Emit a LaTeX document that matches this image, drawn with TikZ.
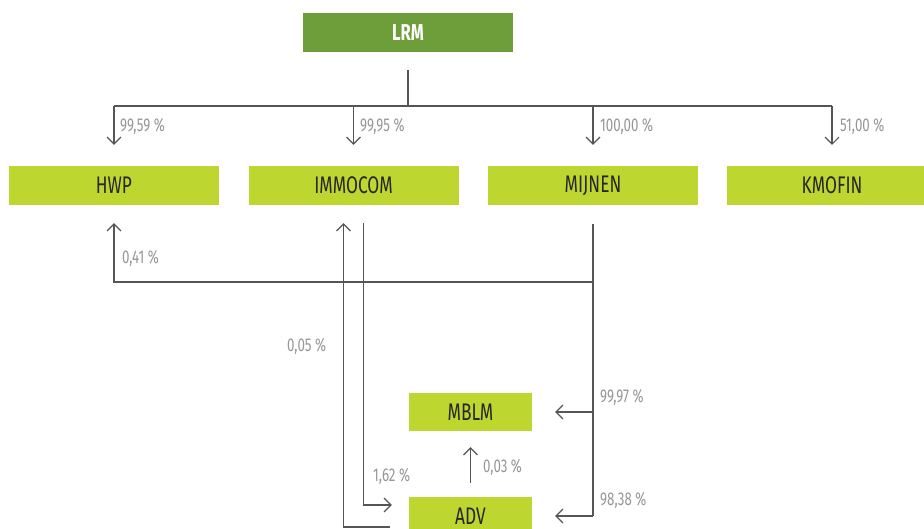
\documentclass[tikz,border=0pt]{standalone}
\usepackage{fontspec}
\usepackage{tikz}
\usetikzlibrary{positioning}
\usetikzlibrary{arrows.meta}
\newfontfamily\diafont{Fira Sans}[FakeStretch=0.72]
\definecolor{lrmgreen}{RGB}{110,158,58}
\definecolor{subgreen}{RGB}{190,214,48}
\definecolor{linegray}{RGB}{85,85,85}
\definecolor{pctgray}{RGB}{150,150,150}

\begin{document}
\begin{tikzpicture}[x=1pt, y=-1pt,
    topbox/.style={fill=lrmgreen, text=white, minimum width=210pt, minimum height=39pt, inner sep=0pt, font=\diafont\fontsize{23}{23}\selectfont\bfseries},
    subbox/.style={fill=subgreen, text=black!85, minimum width=210pt, minimum height=39pt, inner sep=0pt, font=\diafont\fontsize{24}{24}\selectfont},
    lowbox/.style={subbox, minimum width=123pt, minimum height=38pt},
    pct/.style={anchor=west, inner sep=0pt, text=pctgray, font=\diafont\fontsize{18.5}{18.5}\selectfont},
    link/.style={draw=linegray, line width=1.1pt, -{Straight Barb[length=7pt, width=14pt]}},
    plain/.style={draw=linegray, line width=1.1pt},
  ]
  \clip (0,0) rectangle (924,529);

  \node[topbox]   (lrm)     at (408,32.5)   {LRM};
  \node[subbox]   (hwp)     at (114,185.5)  {HWP};
  \node[subbox]   (immocom) at (353.5,185.5) {IMMOCOM};
  \node[subbox]   (mijnen)  at (593,185.5)  {MIJNEN};
  \node[subbox]   (kmofin)  at (832,185.5)  {KMOFIN};
  \node[lowbox]   (mblm)    at (470.5,412)  {MBLM};
  \node[lowbox]   (adv)     at (470.5,516)  {ADV};

  \coordinate (split)  at (408,106);
  \coordinate (hwpbar) at (0,282);

  % LRM to its four holdings
  \draw[plain] ([yshift=-18pt]lrm.south) -- (split);
  \draw[plain] (split -| hwp) -- (split -| kmofin);
  \draw[link] (split -| hwp) -- ([yshift=21pt]hwp.north);
  \draw[link] (split -| immocom) -- ([yshift=21pt]immocom.north);
  \draw[link] (split -| mijnen) -- ([yshift=21pt]mijnen.north);
  \draw[link] (split -| kmofin) -- ([yshift=21pt]kmofin.north);
  \node[pct] (p1) at (120,126) {99,59 \%};
  \node[pct] (p2) at (360,126) {99,95 \%};
  \node[pct] (p3) at (600,126) {100,00 \%};
  \node[pct] (p4) at (840,126) {51,00 \%};

  % MIJNEN to HWP, MBLM and ADV
  \draw[plain] ([yshift=-19pt]mijnen.south) -- (mijnen.south |- adv);
  \draw[link] (mijnen.south |- hwpbar) -| ([yshift=-18pt]hwp.south);
  \draw[link] (mijnen.south |- mblm) -- ([xshift=23pt]mblm.east);
  \draw[link] (mijnen.south |- adv) -- ([xshift=23pt]adv.east);
  \node[pct] (p5) at (122,258) {0,41 \%};
  \node[pct] (p6) at (600,397) {99,97 \%};
  \node[pct] (p7) at (600,500) {98,38 \%};

  % IMMOCOM and ADV
  \draw[link] ([shift={(-19pt,-11pt)}]adv.west) -| ([shift={(-10pt,-18pt)}]immocom.south);
  \draw[link] ([shift={(10pt,-18pt)}]immocom.south) |- ([shift={(-17pt,11pt)}]adv.west);
  \draw[link] ([yshift=14pt]adv.north) -- ([yshift=-16pt]mblm.south);
  \node[pct] (p8) at (287,346) {0,05 \%};
  \node[pct] (p9) at (373,476) {1,62 \%};
  \node[pct] (p10) at (483,467) {0,03 \%};
\end{tikzpicture}
\end{document}
